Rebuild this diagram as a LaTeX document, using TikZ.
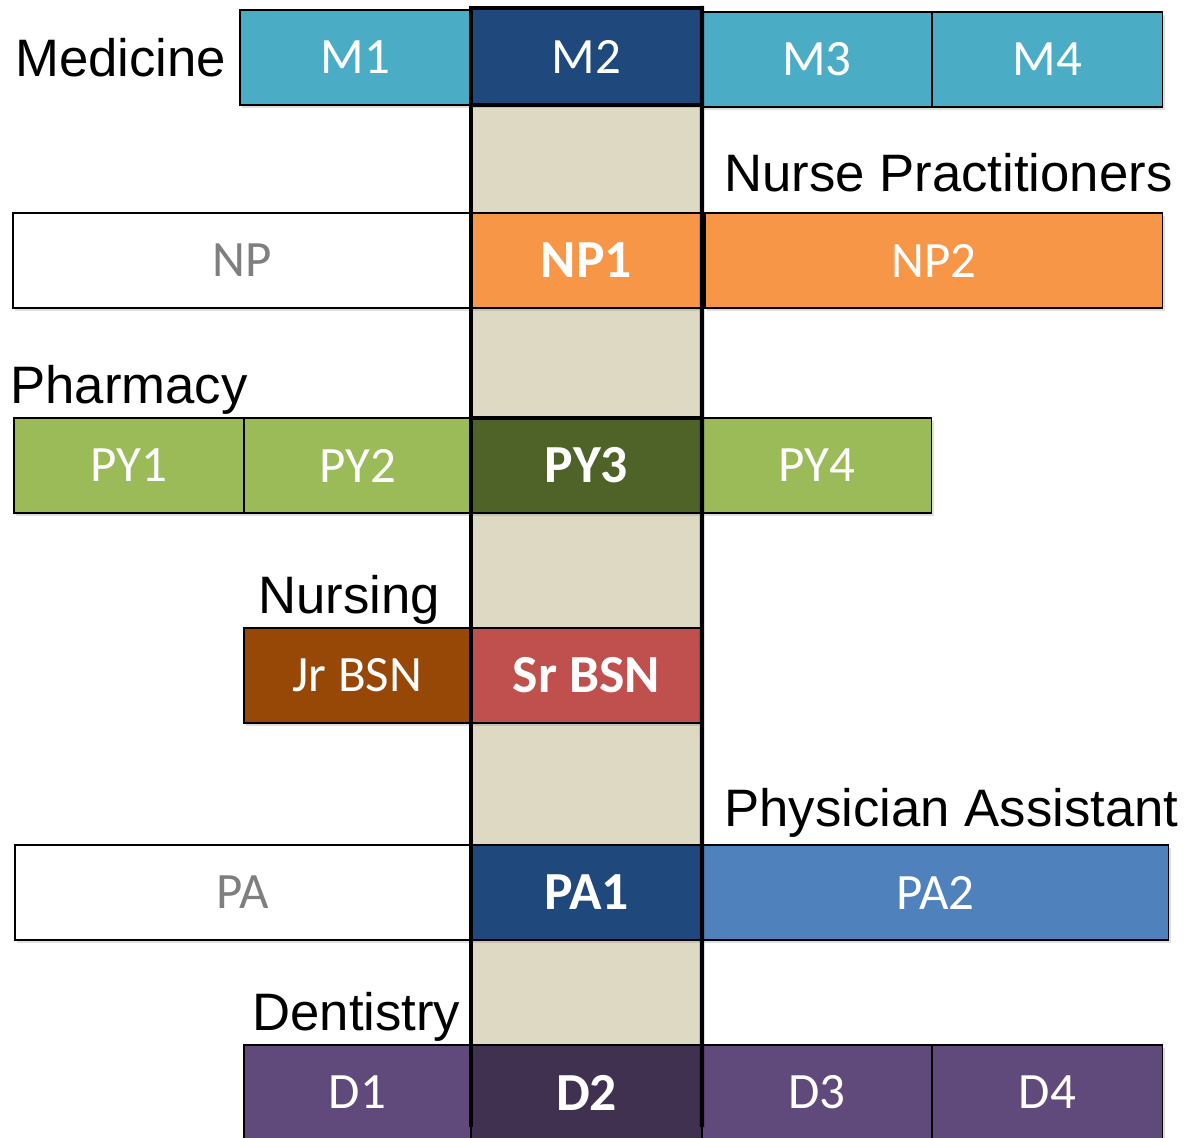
\documentclass[tikz,border=0pt]{standalone}
\usepackage{fontspec}
\setmainfont{Liberation Sans}
\newfontfamily\cellfont{Carlito}
\usetikzlibrary{shadows}

\definecolor{medcyan}{HTML}{4BACC6}
\definecolor{navy}{HTML}{1F497D}
\definecolor{nporange}{HTML}{F79646}
\definecolor{pygreen}{HTML}{9BBB59}
\definecolor{pydark}{HTML}{4F6228}
\definecolor{jrbrown}{HTML}{974806}
\definecolor{srred}{HTML}{C0504D}
\definecolor{pablue}{HTML}{4F81BD}
\definecolor{dpurple}{HTML}{604A7B}
\definecolor{dpurpledark}{HTML}{403151}
\definecolor{beige}{HTML}{DDD9C3}
\definecolor{ghostgray}{HTML}{7F7F7F}

\tikzset{
  cell/.style={draw=black, line width=0.6pt, anchor=north west, minimum height=1.9cm,
    inner sep=0pt, outer sep=0pt, text=white, font=\cellfont\fontsize{29}{31}\selectfont,
    drop shadow={shadow xshift=1.2pt, shadow yshift=-1.5pt, opacity=0.25}},
  hot/.style={cell, font=\cellfont\bfseries\fontsize{30.5}{32}\selectfont},
  ghost/.style={cell, fill=white, text=ghostgray},
  heading/.style={anchor=base west, inner sep=0pt, font=\fontsize{30}{34}\selectfont},
  colline/.style={line width=2.4pt, line cap=rect}
}

\begin{document}
\begin{tikzpicture}[x=0.02cm, y=-0.02cm]
    \useasboundingbox (0,0) rectangle (1186,1138);

    % Shared column behind the rows
    \fill[beige] (471,105) rectangle (702,1125);

    % Medicine
    \node[heading] (medicine) at (15,77) {Medicine};
    \node[cell, fill=medcyan, minimum width=4.62cm] (m1) at (240,10) {M1};
    \node[cell, fill=navy, minimum width=4.62cm, minimum height=1.94cm] (m2) at (471,8) {M2};
    \node[cell, fill=medcyan, minimum width=4.6cm] (m3) at (702,12) {M3};
    \node[cell, fill=medcyan, minimum width=4.62cm] (m4) at (932,12) {M4};

    % Nurse practitioners
    \node[heading] (nurseprac) at (724,192) {Nurse Practitioners};
    \node[ghost, minimum width=9.16cm] (np) at (13,213) {NP};
    \node[hot, fill=nporange, minimum width=4.62cm] (np1) at (471,213) {NP1};
    \node[cell, fill=nporange, minimum width=9.16cm] (np2) at (705,213) {NP2};

    % Pharmacy
    \node[heading] (pharmacy) at (10,403) {Pharmacy};
    \node[cell, fill=pygreen, minimum width=4.6cm] (py1) at (14,418) {PY1};
    \node[cell, fill=pygreen, minimum width=4.54cm] (py2) at (244,418) {PY2};
    \node[hot, fill=pydark, minimum width=4.62cm] (py3) at (471,418) {PY3};
    \node[cell, fill=pygreen, minimum width=4.6cm] (py4) at (702,418) {PY4};

    % Nursing
    \node[heading] (nursing) at (258,613) {Nursing};
    \node[cell, fill=jrbrown, minimum width=4.54cm] (jrbsn) at (244,628) {Jr BSN};
    \node[hot, fill=srred, minimum width=4.62cm] (srbsn) at (471,628) {Sr BSN};

    % Physician assistant
    \node[heading] (physasst) at (724,826) {Physician Assistant};
    \node[ghost, minimum width=9.12cm] (pa) at (15,845) {PA};
    \node[hot, fill=navy, minimum width=4.62cm] (pa1) at (471,845) {PA1};
    \node[cell, fill=pablue, minimum width=9.34cm] (pa2) at (702,845) {PA2};

    % Dentistry
    \node[heading] (dentistry) at (252,1030) {Dentistry};
    \node[cell, fill=dpurple, minimum width=4.54cm] (d1) at (244,1045) {D1};
    \node[hot, fill=dpurpledark, minimum width=4.62cm] (d2) at (471,1045) {D2};
    \node[cell, fill=dpurple, minimum width=4.6cm] (d3) at (702,1045) {D3};
    \node[cell, fill=dpurple, minimum width=4.62cm] (d4) at (932,1045) {D4};

    % Column frame on top
    \coordinate (colbotleft) at (471,1125);
    \coordinate (colbotright) at (702,1125);
    \draw[colline] (m2.north west) rectangle (m2.south east);
    \draw[colline] (m2.north west) -- (colbotleft);
    \draw[colline] (m2.north east) -- (colbotright);
    \draw[colline] (py3.north west) -- (py3.north east);
\end{tikzpicture}
\end{document}
